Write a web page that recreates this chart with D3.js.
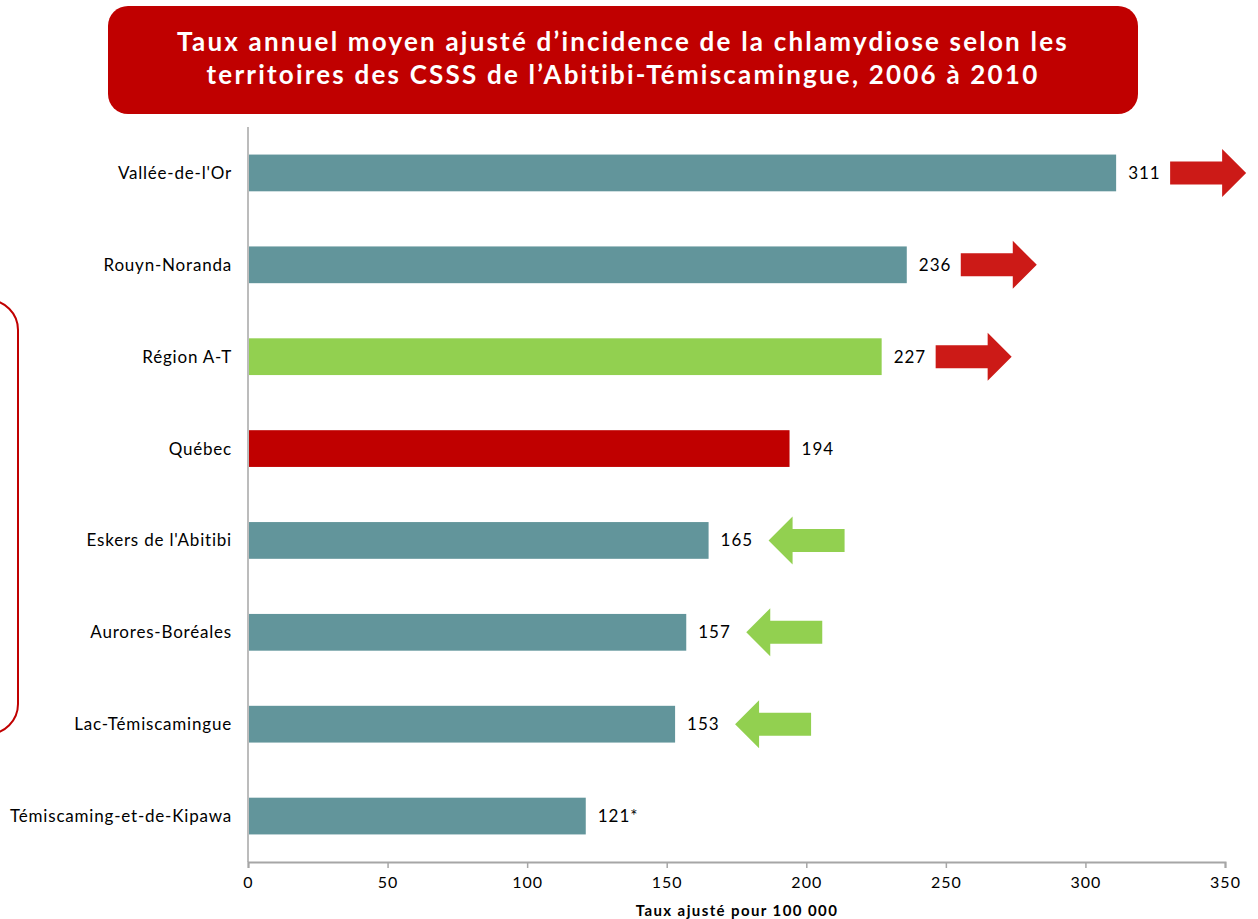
<!DOCTYPE html>
<html>
<head>
  <meta charset="utf-8">
  <title>Chlamydiose A-T</title>
  <style>
    body { margin: 0; background: #fff; }
    svg text { font-family: "Lato", "DejaVu Sans", sans-serif; }
  </style>
</head>
<body>
<script src="https://d3js.org/d3.v7.min.js"></script>
<svg id="chart" width="1258" height="919"></svg>

<script>
    // données
    var territoires = ["Vallée-de-l'Or", "Rouyn-Noranda", "Région A-T", "Québec",
                       "Eskers de l'Abitibi", "Aurores-Boréales", "Lac-Témiscamingue",
                       "Témiscaming-et-de-Kipawa"];
    var taux = [311, 236, 227, 194, 165, 157, 153, 121];
    var etiquettes = ["311", "236", "227", "194", "165", "157", "153", "121*"];
    var typeBarre = ["csss", "csss", "region", "quebec", "csss", "csss", "csss", "csss"];
    // comparaison avec le Québec : plus élevé / plus faible / non significatif
    var ecart = ["plus", "plus", "plus", "", "moins", "moins", "moins", ""];
    var ticks = [0, 50, 100, 150, 200, 250, 300, 350];
    var titre = ["Taux annuel moyen ajusté d’incidence de la chlamydiose selon les",
                 "territoires des CSSS de l’Abitibi-Témiscamingue, 2006 à 2010"];
    var titreAxe = "Taux ajusté pour 100 000";

    var couleurs = { csss: "#62959b", region: "#92d050", quebec: "#c00000" };

    var svg = d3.select("#chart");

    // encadré du titre
    svg.append("rect")
        .attr("x", 108).attr("y", 6)
        .attr("width", 1030).attr("height", 108)
        .attr("rx", 20).attr("ry", 20)
        .attr("fill", "#c00000");

    svg.selectAll(".titre")
        .data(titre)
        .enter()
        .append("text")
        .attr("class", "titre")
        .attr("x", 623)
        .attr("y", function(d, i) { return 51 + i * 33; })
        .attr("text-anchor", "middle")
        .attr("fill", "#fff")
        .style("font-size", "26px")
        .style("font-weight", "bold")
        .style("letter-spacing", "2.2px")
        .text(function(d) { return d; });

    // accolade rouge à gauche (coupée par le bord)
    svg.append("rect")
        .attr("x", -60).attr("y", 300)
        .attr("width", 78).attr("height", 434)
        .attr("rx", 30).attr("ry", 30)
        .attr("fill", "none")
        .attr("stroke", "#c00000")
        .attr("stroke-width", 2);

    var x = d3.scaleLinear().domain([0, 350]).range([248, 1225]);
    var y = d3.scaleBand().domain(territoires).range([127, 862])
        .paddingInner(0.6).paddingOuter(0.3);

    // axe horizontal
    var axeX = svg.append("g")
        .attr("transform", "translate(0,862)")
        .call(d3.axisBottom(x).tickValues(ticks).tickSize(6).tickPadding(9).tickFormat(d3.format("d")));
    axeX.select(".domain").attr("stroke", "#a6a6a6").attr("stroke-width", 2);
    axeX.selectAll(".tick line").attr("stroke", "#a6a6a6").attr("stroke-width", 1.5);
    axeX.selectAll(".tick text")
        .attr("fill", "#000")
        .style("font-size", "16px")
        .style("letter-spacing", "1px")
        .style("font-family", "Lato, sans-serif");

    // axe vertical
    svg.append("line")
        .attr("x1", x(0)).attr("x2", x(0))
        .attr("y1", 127).attr("y2", 862)
        .attr("stroke", "#a6a6a6").attr("stroke-width", 1.5);

    svg.append("text")
        .attr("x", 737).attr("y", 916)
        .attr("text-anchor", "middle")
        .style("font-size", "15px")
        .style("font-weight", "bold")
        .style("letter-spacing", "1.4px")
        .text(titreAxe);

    // barres
    svg.selectAll(".barre")
        .data(taux)
        .enter()
        .append("rect")
        .attr("class", "barre")
        .attr("x", x(0) + 1)
        .attr("y", function(d, i) { return y(territoires[i]); })
        .attr("width", function(d) { return x(d) - x(0) - 1; })
        .attr("height", y.bandwidth())
        .attr("fill", function(d, i) { return couleurs[typeBarre[i]]; });

    // noms des territoires
    svg.selectAll(".cat")
        .data(territoires)
        .enter()
        .append("text")
        .attr("class", "cat")
        .attr("x", 232)
        .attr("y", function(d) { return y(d) + y.bandwidth() / 2; })
        .attr("dy", "0.35em")
        .attr("text-anchor", "end")
        .style("font-size", "17px")
        .style("letter-spacing", "0.8px")
        .text(function(d) { return d; });

    // valeurs
    svg.selectAll(".val")
        .data(taux)
        .enter()
        .append("text")
        .attr("class", "val")
        .attr("x", function(d) { return x(d) + 12; })
        .attr("y", function(d, i) { return y(territoires[i]) + y.bandwidth() / 2; })
        .attr("dy", "0.35em")
        .style("font-size", "17px")
        .style("letter-spacing", "1px")
        .text(function(d, i) { return etiquettes[i]; });

    // flèches
    function fleche(x0, cy, dir) {
        // x0 = bout de départ, longueur 76
        var L = 76, tete = 24, h1 = 11.5, h2 = 24;
        var p;
        if (dir > 0) {
            p = [[x0, cy - h1], [x0 + L - tete, cy - h1], [x0 + L - tete, cy - h2], [x0 + L, cy],
                 [x0 + L - tete, cy + h2], [x0 + L - tete, cy + h1], [x0, cy + h1]];
        } else {
            p = [[x0, cy], [x0 + tete, cy - h2], [x0 + tete, cy - h1], [x0 + L, cy - h1],
                 [x0 + L, cy + h1], [x0 + tete, cy + h1], [x0 + tete, cy + h2]];
        }
        return "M" + p.join("L") + "Z";
    }

    svg.selectAll(".fleche")
        .data(taux.map(function(d, i) { return { v: d, cat: territoires[i], e: ecart[i] }; })
                  .filter(function(d) { return d.e !== ""; }))
        .enter()
        .append("path")
        .attr("class", "fleche")
        .attr("d", function(d) {
            var cy = y(d.cat) + y.bandwidth() / 2;
            return d.e === "plus" ? fleche(x(d.v) + 54, cy, 1) : fleche(x(d.v) + 60, cy, -1);
        })
        .attr("fill", function(d) { return d.e === "plus" ? "#cc1a17" : "#92d050"; });
</script>
</body>
</html>
